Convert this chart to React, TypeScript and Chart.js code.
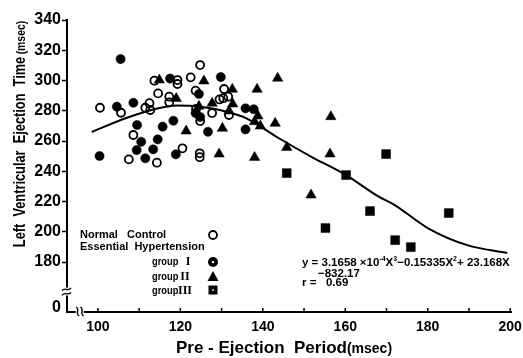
import React, { useEffect, useRef } from "react";
import { Chart, registerables } from "chart.js";
Chart.register(...registerables);

const FONT = '"Liberation Sans", Arial, sans-serif';
const SERIF = '"Liberation Serif", "Times New Roman", serif';

// Normal Control (open circles)
const normalX = [100.5, 105.6, 113.7, 114.6, 119.3, 119.3, 122.5, 124.8, 123.7, 111.5, 112.7, 112.5, 117.3, 117.3, 129.5, 130.4, 131.6, 127.7, 124.8, 123.8, 131.8, 130.6, 108.6, 107.5, 114.3, 120.5, 124.7, 124.7];
const normalY = [282.0, 278.7, 299.9, 291.5, 300.3, 297.7, 302.1, 310.2, 293.3, 282.0, 280.5, 285.0, 289.3, 285.6, 287.5, 288.3, 289.3, 278.5, 273.2, 281.2, 277.2, 294.4, 264.0, 247.9, 245.7, 255.2, 251.9, 249.3];

// Essential Hypertension group I (filled circles)
const g1X = [105.5, 117.5, 104.6, 108.6, 124.5, 123.7, 124.8, 118.3, 115.7, 109.5, 126.7, 114.5, 110.5, 113.4, 109.4, 111.5, 100.4, 118.9, 129.8, 135.8, 137.8, 135.8];
const g1Y = [314.2, 301.3, 282.7, 285.3, 291.1, 278.5, 275.9, 273.4, 269.5, 270.6, 266.1, 261.1, 259.5, 254.5, 254.0, 248.6, 250.1, 251.2, 302.3, 281.6, 281.0, 267.7];

// group II (triangles)
const g2X = [114.9, 119.0, 121.4, 125.7, 124.5, 127.7, 130.2, 131.8, 129.4, 132.6, 138.6, 143.6, 132.7, 138.8, 138.0, 139.4, 143.0, 156.5, 145.8, 156.3, 138.0, 151.7];
const g2Y = [300.3, 288.1, 266.6, 299.7, 283.0, 284.9, 268.4, 279.8, 251.4, 294.2, 294.2, 301.5, 284.5, 276.5, 272.8, 269.9, 271.7, 276.1, 255.8, 251.4, 249.2, 224.3];

// group III (squares)
const g3X = [145.8, 160.2, 169.9, 155.2, 166.0, 172.1, 175.9, 185.1];
const g3Y = [238.8, 237.5, 251.4, 202.5, 213.7, 194.5, 189.9, 212.4];

// fitted curve as drawn
const curveX = [98.5, 106.9, 114.9, 119.0, 124.5, 131.0, 135.9, 143.8, 151.8, 160.2, 167.9, 172.0, 180.0, 189.6, 199.3];
const curveY = [266.0, 275.2, 281.8, 283.5, 282.8, 279.5, 275.2, 262.0, 249.6, 237.5, 223.6, 217.7, 202.5, 191.2, 186.0];

const yTickValues = [150, 180, 200, 220, 240, 260, 280, 300, 320, 340];
const xTickValues = [100, 110, 120, 130, 140, 150, 160, 170, 180, 190, 200];

const pts = (xs: number[], ys: number[]) => xs.map((x, i) => ({ x, y: ys[i] }));

function drawMarker(ctx: CanvasRenderingContext2D, kind: string, x: number, y: number) {
  ctx.save();
  ctx.fillStyle = "#000";
  ctx.strokeStyle = "#000";
  ctx.beginPath();
  if (kind === "open") {
    ctx.lineWidth = 1.8;
    ctx.arc(x, y, 4, 0, Math.PI * 2);
    ctx.stroke();
  } else if (kind === "circle") {
    ctx.arc(x, y, 5, 0, Math.PI * 2);
    ctx.fill();
    ctx.fillStyle = "#fff";
    ctx.beginPath();
    ctx.arc(x, y, 1.2, 0, Math.PI * 2);
    ctx.fill();
  } else if (kind === "tri") {
    ctx.moveTo(x, y - 6);
    ctx.lineTo(x + 5.5, y + 4);
    ctx.lineTo(x - 5.5, y + 4);
    ctx.closePath();
    ctx.fill();
  } else {
    ctx.rect(x - 4.5, y - 4.5, 9, 9);
    ctx.fill();
    ctx.fillStyle = "#fff";
    ctx.fillRect(x - 0.8, y - 0.8, 1.6, 1.6);
  }
  ctx.restore();
}

function drawSegs(ctx: CanvasRenderingContext2D, x: number, y: number, segs: [string, number, number][]) {
  let cx = x;
  for (const [t, size, dy] of segs) {
    ctx.font = `bold ${size}px ${FONT}`;
    ctx.fillText(t, cx, y + dy);
    cx += ctx.measureText(t).width;
  }
}

function drawScaled(ctx: CanvasRenderingContext2D, text: string, x: number, y: number, sx: number) {
  ctx.save();
  ctx.translate(x, y);
  ctx.scale(sx, 1);
  ctx.fillText(text, 0, 0);
  ctx.restore();
}

const decor = {
  id: "decor",
  afterDraw(chart: any) {
    const ctx: CanvasRenderingContext2D = chart.ctx;
    const { left, bottom } = chart.chartArea;
    const xs = chart.scales.x;
    const ys = chart.scales.y;
    ctx.save();
    ctx.strokeStyle = "#000";
    ctx.fillStyle = "#000";
    // inward x ticks
    ctx.lineWidth = 1.5;
    for (const v of xTickValues) {
      const px = xs.getPixelForValue(v);
      ctx.beginPath();
      ctx.moveTo(px, bottom);
      ctx.lineTo(px, bottom - 4);
      ctx.stroke();
    }
    // y break
    const yb = ys.getPixelForValue(160.5);
    ctx.fillStyle = "#fff";
    ctx.fillRect(left - 4, yb - 4, 8, 8);
    ctx.strokeStyle = "#000";
    ctx.lineWidth = 1.3;
    for (const off of [-2.2, 2.2]) {
      ctx.beginPath();
      ctx.moveTo(left - 5, yb + off + 1.5);
      ctx.bezierCurveTo(left - 2, yb + off - 3, left + 1, yb + off + 3, left + 4, yb + off - 1.5);
      ctx.stroke();
    }
    // x break
    const xb = xs.getPixelForValue(95.6);
    ctx.fillStyle = "#fff";
    ctx.fillRect(xb - 4, bottom - 4, 8, 8);
    for (const off of [-2.2, 2.2]) {
      ctx.beginPath();
      ctx.moveTo(xb + off - 1.5, bottom - 5);
      ctx.bezierCurveTo(xb + off + 3, bottom - 2, xb + off - 3, bottom + 1, xb + off + 1.5, bottom + 4);
      ctx.stroke();
    }
    ctx.fillStyle = "#000";
    ctx.textBaseline = "middle";
    ctx.textAlign = "left";

    // y title
    ctx.save();
    ctx.translate(21, 134);
    ctx.rotate(-Math.PI / 2);
    const t1 = "Left  Ventricular  Ejection  Time";
    ctx.font = `bold 13px ${FONT}`;
    const w2 = ctx.measureText("(msec)").width;
    ctx.font = `bold 16px ${FONT}`;
    const w1 = ctx.measureText(t1).width;
    const sx = 0.8;
    const total = (w1 + 3 + w2) * sx;
    ctx.scale(sx, 1);
    ctx.fillText(t1, -total / 2 / sx, 0);
    ctx.font = `bold 13px ${FONT}`;
    ctx.fillText("(msec)", -total / 2 / sx + w1 + 3, 0);
    ctx.restore();

    // x title
    ctx.font = `bold 17px ${FONT}`;
    const xt = "Pre - Ejection  Period";
    const xw1 = ctx.measureText(xt).width;
    ctx.font = `bold 14px ${FONT}`;
    const xw2 = ctx.measureText("(msec)").width;
    const xstart = 284 - (xw1 + xw2) / 2;
    ctx.font = `bold 17px ${FONT}`;
    ctx.fillText(xt, xstart, 348);
    ctx.font = `bold 14px ${FONT}`;
    ctx.fillText("(msec)", xstart + xw1, 349);

    // legend
    ctx.font = `bold 11px ${FONT}`;
    ctx.fillText("Normal   Control", 80, 235);
    ctx.fillText("Essential  Hypertension", 80, 247);
    ctx.font = `bold 11px ${FONT}`;
    drawScaled(ctx, "group", 152, 262, 0.85);
    drawScaled(ctx, "group", 152, 277, 0.85);
    drawScaled(ctx, "group", 152, 291, 0.85);
    ctx.font = `bold 12px ${SERIF}`;
    ctx.textAlign = "center";
    ctx.fillText("I", 188, 262);
    ctx.fillText("II", 185, 277);
    ctx.fillText("III", 185, 291);
    ctx.textAlign = "left";
    drawMarker(ctx, "open", 213, 235);
    drawMarker(ctx, "circle", 213, 262);
    drawMarker(ctx, "tri", 213, 277);
    drawMarker(ctx, "square", 213, 290);

    // equation
    drawSegs(ctx, 302, 263, [
      ["y = 3.1658 ×10", 11.5, 0],
      ["-4", 7, -4],
      ["X", 11.5, 0],
      ["3", 7, -4],
      ["−0.15335X", 11.5, 0],
      ["2", 7, -4],
      ["+ 23.168X", 11.5, 0],
    ]);
    ctx.font = `bold 11.5px ${FONT}`;
    ctx.fillText("−832.17", 318, 274);
    ctx.fillText("r =   0.69", 302, 283);
    ctx.restore();
  },
};

export default function App() {
  const ref = useRef<HTMLCanvasElement>(null);
  useEffect(() => {
    if (!ref.current) return;
    const chart = new Chart(ref.current, {
      type: "scatter",
      data: {
        datasets: [
          {
            label: "Normal Control",
            data: pts(normalX, normalY),
            pointStyle: "circle",
            pointRadius: 4,
            borderWidth: 1.8,
            borderColor: "#000",
            backgroundColor: "rgba(0,0,0,0)",
          },
          {
            label: "group I",
            data: pts(g1X, g1Y),
            pointStyle: "circle",
            pointRadius: 4.6,
            borderWidth: 0.5,
            borderColor: "#000",
            backgroundColor: "#000",
          },
          {
            label: "group II",
            data: pts(g2X, g2Y),
            pointStyle: "triangle",
            pointRadius: 6,
            borderWidth: 0.5,
            borderColor: "#000",
            backgroundColor: "#000",
          },
          {
            label: "group III",
            data: pts(g3X, g3Y),
            pointStyle: "rect",
            pointRadius: 6.3,
            borderWidth: 0.5,
            borderColor: "#000",
            backgroundColor: "#000",
          },
          {
            label: "fit",
            type: "line",
            data: pts(curveX, curveY),
            showLine: true,
            pointRadius: 0,
            borderColor: "#000",
            borderWidth: 2,
            cubicInterpolationMode: "monotone",
            fill: false,
          } as any,
        ],
      },
      options: {
        animation: false,
        responsive: false,
        maintainAspectRatio: false,
        layout: { padding: { top: 20, right: 12, left: 0, bottom: 0 } },
        plugins: { legend: { display: false }, tooltip: { enabled: false } },
        scales: {
          x: {
            type: "linear",
            min: 92.5,
            max: 200.2,
            afterBuildTicks: (s: any) => {
              s.ticks = xTickValues.map((v) => ({ value: v }));
            },
            afterFit: (s: any) => {
              s.height = 46;
              s.paddingLeft = 0;
              s.paddingRight = 0;
            },
            grid: { display: false, drawTicks: false },
            border: { display: true, color: "#000", width: 2 },
            ticks: {
              color: "#000",
              padding: 7,
              maxRotation: 0,
              autoSkip: false,
              font: { family: FONT, size: 14, weight: "bold" },
              callback: (v: any) => (Number(v) % 20 === 0 ? String(v) : ""),
            },
          },
          y: {
            type: "linear",
            min: 147,
            max: 340,
            afterBuildTicks: (s: any) => {
              s.ticks = yTickValues.map((v) => ({ value: v }));
            },
            afterFit: (s: any) => {
              s.width = 67;
              s.paddingTop = 0;
              s.paddingBottom = 0;
            },
            grid: {
              drawOnChartArea: false,
              drawTicks: true,
              tickLength: 5,
              tickWidth: 1.5,
              tickColor: (c: any) => (c.tick && c.tick.value === 150 ? "rgba(0,0,0,0)" : "#000"),
            },
            border: { display: true, color: "#000", width: 2 },
            ticks: {
              color: "#000",
              padding: 1,
              autoSkip: false,
              font: { family: FONT, size: 16, weight: "bold" },
              callback: (v: any) => (Number(v) === 150 ? "0" : String(v)),
            },
          },
        },
      },
      plugins: [decor],
    });
    return () => chart.destroy();
  }, []);
  return (
    <div style={{ position: "fixed", left: 0, top: 0, width: 523, height: 358, background: "#fff" }}>
      <canvas ref={ref} width={523} height={358} style={{ width: 523, height: 358, display: "block" }} />
    </div>
  );
}
